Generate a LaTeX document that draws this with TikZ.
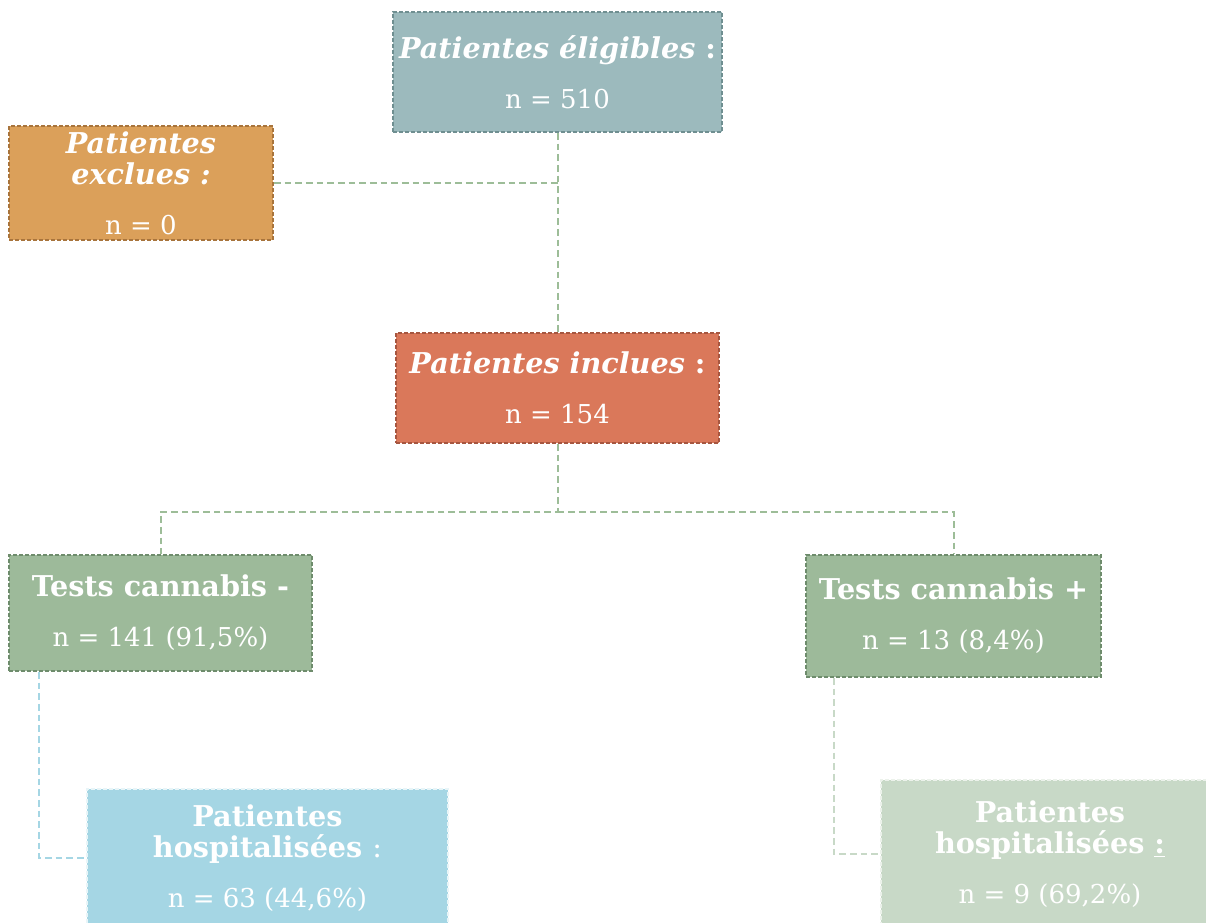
\documentclass[tikz,border=0pt]{standalone}
\usepackage{fontspec}
\setmainfont{DejaVu Serif}
\usetikzlibrary{positioning}

\definecolor{fondelig}{HTML}{9CBABD}
\definecolor{bordelig}{HTML}{6F8F91}
\definecolor{fondexcl}{HTML}{DBA05A}
\definecolor{bordexcl}{HTML}{A8743C}
\definecolor{fondincl}{HTML}{DA785A}
\definecolor{bordincl}{HTML}{A65640}
\definecolor{fondtest}{HTML}{9DBA9A}
\definecolor{bordtest}{HTML}{6E8C6C}
\definecolor{fondhospm}{HTML}{A5D6E4}
\definecolor{fondhospp}{HTML}{C8D9C7}
\definecolor{vertlien}{HTML}{9DBD98}

\newcommand{\titre}{\fontsize{21.5}{23.5}\selectfont\bfseries}
\newcommand{\effectif}{\fontsize{19.5}{23.5}\selectfont}

\tikzset{
  boite/.style={draw, dash pattern=on 3pt off 1.5pt, line width=1.3pt, align=center,
    text=white, inner sep=0pt, font=\fontsize{21.5}{23.5}\selectfont},
  lien/.style={dash pattern=on 5pt off 3pt, line width=1.5pt, draw=vertlien},
}

\begin{document}
\begin{tikzpicture}[x=0.75pt, y=-0.75pt]
  % cadre de l'image
  \useasboundingbox (0,0) rectangle (1206,922);

  % les boites
  \node[boite, fill=fondelig, draw=bordelig, minimum width=246.75pt, minimum height=90pt]
    (eligibles) at (557.5,72) {{\titre\itshape Patientes éligibles \upshape:}\\[14pt] {\effectif n = 510}};
  \node[boite, fill=fondexcl, draw=bordexcl, minimum width=198pt, minimum height=85.5pt]
    (exclues) at (141,183) {{\titre\itshape Patientes}\\ {\titre\itshape exclues :}\\[14pt] {\effectif n = 0}};
  \node[boite, fill=fondincl, draw=bordincl, minimum width=242.25pt, minimum height=82.5pt]
    (inclues) at (557.5,388) {{\titre\itshape Patientes inclues \upshape:}\\[14pt] {\effectif n = 154}};
  \node[boite, fill=fondtest, draw=bordtest, minimum width=227.25pt, minimum height=87pt]
    (testmoins) at (160.5,613) {{\titre Tests cannabis -}\\[14pt] {\effectif n = 141 (91,5\%)}};
  \node[boite, fill=fondtest, draw=bordtest, minimum width=221.25pt, minimum height=91.5pt]
    (testplus) at (953.5,616) {{\titre Tests cannabis +}\\[14pt] {\effectif n = 13 (8,4\%)}};
  \node[boite, fill=fondhospm, draw=white!75!fondhospm, minimum width=270.75pt, minimum height=103.5pt]
    (hospmoins) at (267.5,858) {{\titre Patientes}\\ {\titre hospitalisées \mdseries:}\\[14pt] {\effectif n = 63 (44,6\%)}};
  \node[boite, fill=fondhospp, draw=white!65!fondhospp, minimum width=253.5pt, minimum height=111pt]
    (hospplus) at (1050,854) {{\titre Patientes}\\ {\titre hospitalisées \underline{:}}\\[14pt] {\effectif n = 9 (69,2\%)}};

  % les liens
  \coordinate (partage) at (557.5,512);
  \draw[lien] (eligibles) -- (inclues);
  \draw[lien] (exclues.east) -- (exclues.east -| eligibles.south);
  \draw[lien] (inclues) -- (partage) -| (testmoins.north);
  \draw[lien] (partage) -| (testplus.north);
  \draw[lien, draw=fondhospm] ([xshift=23.25pt]testmoins.south west) |- (hospmoins.west);
  \draw[lien, draw=fondhospp] ([xshift=21.75pt]testplus.south west) |- (hospplus.west);
\end{tikzpicture}
\end{document}
